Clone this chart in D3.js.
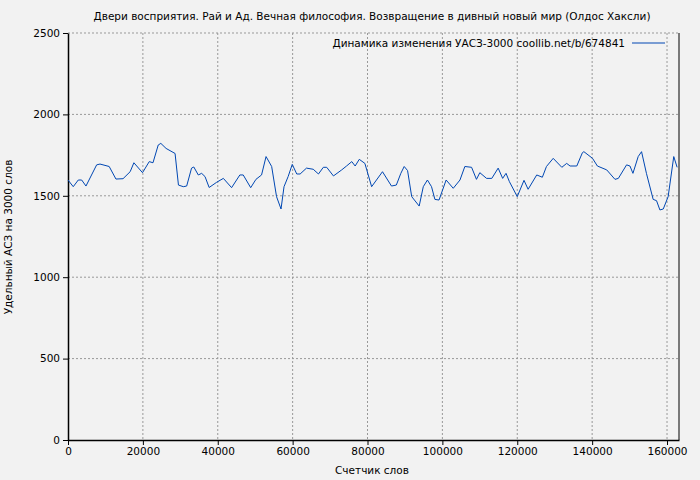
<!DOCTYPE html>
<html><head><meta charset="utf-8">
<script src="https://cdn.jsdelivr.net/npm/d3@7"></script>
<style>body{margin:0;background:#f2f2f2}svg{display:block}text{font-family:"DejaVu Sans",sans-serif}</style>
</head><body><svg width="700" height="480"></svg>
<script>
const words = [0,1400,2750,3650,4800,7650,8550,11000,12800,14700,16600,17600,19900,21700,22700,24100,24800,26200,28600,29500,30800,31700,33000,33600,34800,35700,36600,37700,39700,41500,43700,45900,46800,48800,50200,51700,52900,54400,55700,56900,57700,58800,59900,61100,62000,63700,65500,66900,68200,69100,70900,73100,74400,75800,76700,77800,79300,81100,84000,86400,87700,88900,89800,90700,91800,93800,94900,96000,97100,98000,99100,101000,102900,104700,106000,107800,109100,110000,111800,113200,114900,116100,117000,117900,120000,121800,122900,125200,126700,127800,129600,131900,133200,134100,135900,137400,137800,140100,141400,143900,146100,147000,149200,150100,150900,152300,153200,154500,156300,157200,158100,159000,160300,161800,162700];
const uasz = [1597,1556,1597,1597,1560,1690,1695,1680,1603,1605,1648,1703,1642,1710,1703,1812,1822,1791,1760,1566,1556,1560,1670,1677,1628,1638,1618,1551,1583,1607,1550,1628,1628,1550,1601,1628,1741,1680,1495,1419,1556,1618,1693,1634,1634,1670,1663,1634,1675,1675,1622,1659,1683,1710,1683,1724,1699,1556,1648,1560,1566,1638,1680,1655,1495,1437,1556,1597,1556,1478,1474,1597,1546,1597,1680,1675,1601,1642,1607,1607,1670,1607,1638,1587,1495,1595,1540,1628,1614,1680,1730,1675,1699,1683,1683,1765,1771,1730,1683,1659,1601,1607,1690,1683,1638,1741,1771,1638,1478,1470,1413,1419,1495,1741,1675];
const xTicks = [0,20000,40000,60000,80000,100000,120000,140000,160000];
const yTicks = [0,500,1000,1500,2000,2500];

const svg = d3.select("svg");
const L = 68, R = 679, T = 33, B = 440;
const x = d3.scaleLinear().domain([0, 163200]).range([L, R]);
const y = d3.scaleLinear().domain([0, 2500]).range([B, T]);

// grid
svg.append("g").selectAll("line").data(xTicks.slice(1)).enter().append("line")
    .attr("x1", d => x(d)).attr("x2", d => x(d)).attr("y1", T).attr("y2", B)
    .attr("stroke", "#999").attr("stroke-dasharray", "2,2");
svg.append("g").selectAll("line").data(yTicks.slice(1)).enter().append("line")
    .attr("x1", L).attr("x2", R).attr("y1", d => y(d)).attr("y2", d => y(d))
    .attr("stroke", "#999").attr("stroke-dasharray", "2,2");

// axes
svg.append("g").attr("transform", "translate(0," + B + ")")
    .call(d3.axisBottom(x).tickValues(xTicks).tickFormat(d3.format("d")).tickSizeOuter(0).tickSizeInner(5));
svg.append("g").attr("transform", "translate(" + L + ",0)")
    .call(d3.axisLeft(y).tickValues(yTicks).tickFormat(d3.format("d")).tickSizeOuter(0).tickSizeInner(5));
svg.selectAll(".domain").attr("stroke", "#000").attr("stroke-width", 1.5);
svg.selectAll(".tick text").style("font-size", "10.5px").style("font-family", "DejaVu Sans").attr("fill", "#000");
svg.append("line").attr("x1", R).attr("x2", R).attr("y1", T).attr("y2", B).attr("stroke", "#000");

// line
svg.append("path").datum(words.map((w, i) => [w, uasz[i]]))
    .attr("fill", "none").attr("stroke", "#0047b3").attr("stroke-width", 1)
    .attr("d", d3.line().x(d => x(d[0])).y(d => y(d[1])));

// texts
svg.append("text").attr("x", 372).attr("y", 20).attr("text-anchor", "middle").style("font-size", "10.5px")
    .text("Двери восприятия. Рай и Ад. Вечная философия. Возвращение в дивный новый мир (Олдос Хаксли)");
svg.append("text").attr("x", 372).attr("y", 474).attr("text-anchor", "middle").style("font-size", "10.5px").text("Счетчик слов");
svg.append("text").attr("transform", "translate(12,237) rotate(-90)").attr("text-anchor", "middle").style("font-size", "10.5px")
    .text("Удельный АСЗ на 3000 слов");
svg.append("text").attr("x", 625).attr("y", 47).attr("text-anchor", "end").style("font-size", "10.5px")
    .text("Динамика изменения УАСЗ-3000 coollib.net/b/674841");
svg.append("line").attr("x1", 632).attr("x2", 665).attr("y1", 43).attr("y2", 43).attr("stroke", "#0047b3");
</script></body></html>
